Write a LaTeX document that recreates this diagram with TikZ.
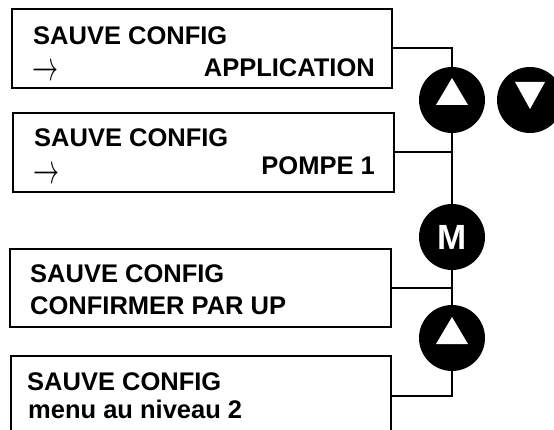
\documentclass[tikz,border=0pt]{standalone}
\usepackage{fontspec}
\setmainfont{Liberation Sans}
\usetikzlibrary{positioning}

\begin{document}
\begin{tikzpicture}[
  x=1pt, y=-1pt,
  screen/.style={draw, line width=2.4pt, minimum width=380pt, minimum height=79pt, inner sep=0pt},
  txt/.style={font=\fontsize{25.5}{28}\selectfont\bfseries, inner sep=0pt},
  arw/.style={inner sep=0pt},
  key/.style={circle, fill=black, minimum size=66pt, inner sep=0pt},
  wire/.style={line width=2pt},
]
\clip (0,0) rectangle (554,430);
% ---- screens
\node[screen] (s1) at (202,48.5) {};
\node[screen, minimum width=381pt] (s2) at (203.5,152.5) {};
\node[screen, minimum width=381pt, minimum height=78pt] (s3) at (200.5,288) {};
\node[screen] (s4) at (201,395.5) {};

\node[txt, anchor=base west] (s1a) at (33,45) {SAUVE CONFIG};
\node[arw] (s1b) at (45,80.5) {\smash{\scalebox{2.6}[4.2]{$\rightarrow$}}};
\node[txt, anchor=base east] (s1c) at (375,77) {APPLICATION};
\node[txt, anchor=base west] (s2a) at (34,147) {SAUVE CONFIG};
\node[arw] (s2b) at (46,183.5) {\smash{\scalebox{2.6}[4.2]{$\rightarrow$}}};
\node[txt, anchor=base east] (s2c) at (375,175) {POMPE 1};
\node[txt, anchor=base west] (s3a) at (30,283) {SAUVE CONFIG};
\node[txt, anchor=base west] (s3b) at (30,315) {CONFIRMER PAR UP};
\node[txt, anchor=base west] (s4a) at (27,390) {SAUVE CONFIG};
\node[txt, anchor=base west] (s4b) at (28,418) {menu au niveau 2};

% ---- keys
\node[key] (up1) at (452,100) {};
\node[key] (dn1) at (530,100) {};
\node[key, text=white, font=\fontsize{35}{35}\selectfont\bfseries] (mkey) at (452,237) {M};
\node[key] (up2) at (452,338) {};
\fill[white] (up1.center) ++(-16,5) -- ++(32,0) -- ++(-16,-27) -- cycle;
\fill[white] (dn1.center) ++(-15,-18) -- ++(30,0) -- ++(-15,27) -- cycle;
\fill[white] (up2.center) ++(-16,6) -- ++(32,0) -- ++(-16,-27) -- cycle;

% ---- wires
\draw[wire] (s1.east) -| (up1.north);
\draw[wire] (up1.south) -- (mkey.north);
\draw[wire] (s2.east) -- (s2.east -| up1.south);
\draw[wire] (mkey.south) -- (up2.north);
\draw[wire] (s3.east) -- (s3.east -| mkey.south);
\draw[wire] (up2.south) |- (s4.east);
\end{tikzpicture}
\end{document}
